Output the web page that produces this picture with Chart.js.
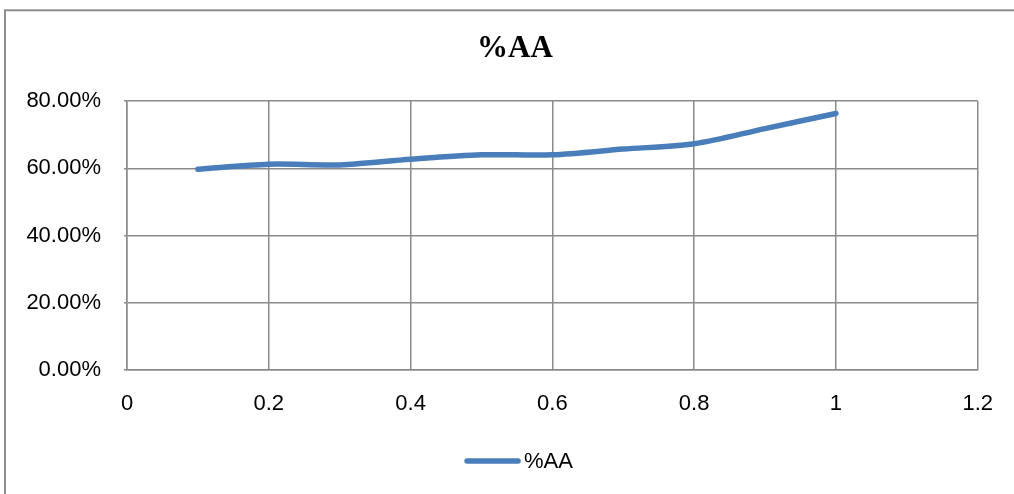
<!DOCTYPE html>
<html>
<head>
<meta charset="utf-8">
<script src="https://cdn.jsdelivr.net/npm/chart.js@4/dist/chart.umd.min.js"></script>
<style>
  html, body { margin: 0; padding: 0; background: #ffffff; }
  #wrap { width: 1014px; height: 494px; position: relative; }
</style>
</head>
<body>
<div id="wrap"><canvas id="c" width="1014" height="494"></canvas></div>
<script>
// Series: %AA measured at each x step
const seriesName = '%AA';
const xValues = [0.1, 0.2, 0.3, 0.4, 0.5, 0.6, 0.7, 0.8, 0.9, 1.0];
const aaValues = [0.597, 0.612, 0.610, 0.627, 0.640, 0.640, 0.657, 0.673, 0.718, 0.763];

// Axis ranges
const xMin = 0, xMax = 1.2, xStep = 0.2;
const yMin = 0, yMax = 0.8, yStep = 0.2;

const lineColor = '#4a7ebb';
const gridColor = '#8a8a8a';
const labelFont = { family: 'Liberation Sans', size: 22 };

// Outer frame of the chart object
const framePlugin = {
  id: 'frame',
  beforeDraw(chart) {
    const ctx = chart.ctx;
    ctx.save();
    ctx.fillStyle = '#ffffff';
    ctx.fillRect(0, 0, chart.width, chart.height);
    ctx.strokeStyle = '#8c8c8c';
    ctx.lineWidth = 2;
    ctx.strokeRect(5, 10.3, chart.width + 20, chart.height + 20);
    ctx.restore();
  }
};

// Legend: line sample followed by the series name
const legendPlugin = {
  id: 'lineLegend',
  afterDraw(chart) {
    const ctx = chart.ctx;
    const ds = chart.data.datasets[0];
    const cy = 461;
    const lineLen = 57, gap = 3;
    ctx.save();
    ctx.font = labelFont.size + 'px ' + labelFont.family;
    const tw = ctx.measureText(ds.label).width;
    const total = lineLen + gap + tw;
    const x0 = 518.5 - total / 2;
    ctx.strokeStyle = ds.borderColor;
    ctx.lineWidth = 5.5;
    ctx.lineCap = 'round';
    ctx.beginPath();
    ctx.moveTo(x0 + 3, cy);
    ctx.lineTo(x0 + lineLen - 3, cy);
    ctx.stroke();
    ctx.fillStyle = '#000000';
    ctx.textBaseline = 'middle';
    ctx.textAlign = 'left';
    ctx.fillText(ds.label, x0 + lineLen + gap, cy + 1);
    ctx.restore();
  }
};

new Chart(document.getElementById('c'), {
  type: 'line',
  data: {
    datasets: [{
      label: seriesName,
      data: xValues.map((x, i) => ({ x: x, y: aaValues[i] })),
      borderColor: lineColor,
      backgroundColor: lineColor,
      borderWidth: 5.5,
      borderCapStyle: 'round',
      borderJoinStyle: 'round',
      pointRadius: 0,
      tension: 0.3,
      fill: false
    }]
  },
  options: {
    responsive: false,
    animation: false,
    layout: { padding: { left: 16, right: 0, top: 0, bottom: 0 } },
    plugins: {
      legend: { display: false },
      tooltip: { enabled: false },
      title: {
        display: true,
        text: seriesName,
        color: '#000000',
        font: { family: 'Liberation Serif', size: 31, weight: 'bold', lineHeight: 1 },
        padding: { top: 33, bottom: 37 }
      }
    },
    scales: {
      x: {
        type: 'linear',
        min: xMin,
        max: xMax,
        afterFit(scale) { scale.height = 124; },
        ticks: {
          stepSize: xStep,
          color: '#000000',
          font: labelFont,
          padding: 21,
          maxRotation: 0,
          callback: v => String(Number(v.toFixed(1)))
        },
        grid: { color: gridColor, lineWidth: 1.5, drawTicks: false },
        border: { color: gridColor, width: 1.5 }
      },
      y: {
        type: 'linear',
        min: yMin,
        max: yMax,
        afterFit(scale) { scale.width = 111; },
        ticks: {
          stepSize: yStep,
          color: '#000000',
          font: labelFont,
          padding: 23,
          callback: v => (v * 100).toFixed(2) + '%'
        },
        grid: { color: gridColor, lineWidth: 1.5, tickLength: 3 },
        border: { color: gridColor, width: 1.5 }
      },
      // blank margin on the right side of the plot
      yMargin: {
        type: 'linear',
        position: 'right',
        display: true,
        min: yMin,
        max: yMax,
        afterFit(scale) { scale.width = 32; },
        ticks: { display: false },
        grid: { display: false, drawTicks: false },
        border: { display: false }
      }
    }
  },
  plugins: [framePlugin, legendPlugin]
});
</script>
</body>
</html>
